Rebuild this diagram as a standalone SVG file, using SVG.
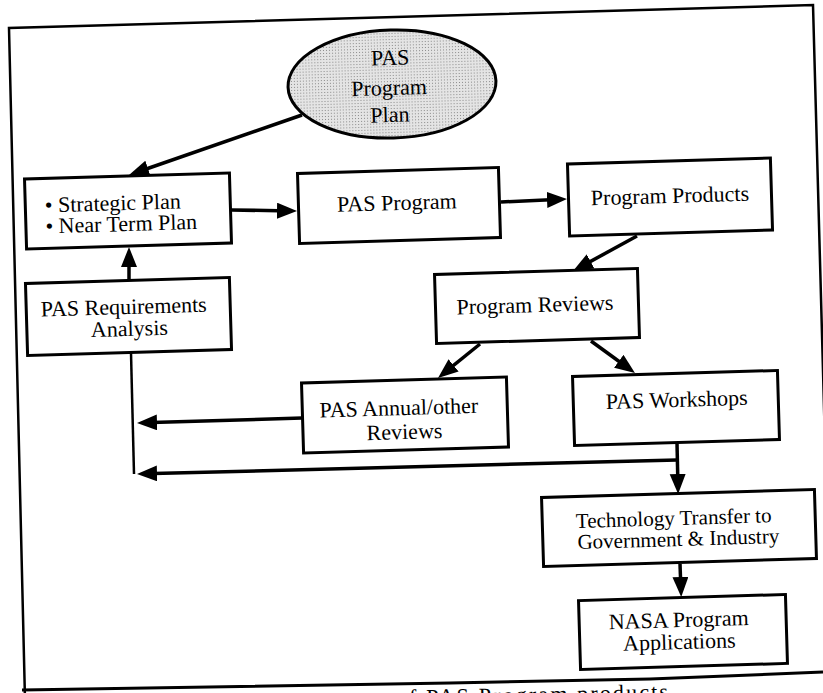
<svg xmlns="http://www.w3.org/2000/svg" width="823" height="693" viewBox="0 0 823 693">
<style>
.box{fill:#fff;stroke:#000;stroke-width:3}
.t{font-family:"Liberation Serif","Times New Roman",serif;font-size:22px;fill:#000}
.c{text-anchor:middle}
.con{stroke:#000;stroke-width:3.5;fill:none}
.thin{stroke:#000;stroke-width:2.5;fill:none}
</style>
<defs>
<pattern id="stip" width="3" height="3" patternUnits="userSpaceOnUse">
<rect width="3" height="3" fill="#e4e4e4"/>
<rect width="1" height="1" fill="#8a8a8a"/>
</pattern>
<marker id="ah" markerUnits="userSpaceOnUse" markerWidth="22" markerHeight="18" refX="14" refY="8" orient="auto">
<path d="M0,0 L20,8 L0,16 z" fill="#000"/>
</marker>
</defs>
<g id="frame">
<path d="M25,700 L9,28 L813,5 L832,700" fill="none" stroke="#000" stroke-width="2.5"/>
<polyline points="22,690 450,683 650,679 823,672" fill="none" stroke="#000" stroke-width="3"/>
<text class="t" x="396" y="702" textLength="272" lengthAdjust="spacing" transform="rotate(-1.3 532 695)">of PAS Program products</text>
</g>
<g id="connectors">
<line class="con" x1="302" y1="115" x2="134.7" y2="173" marker-end="url(#ah)"/>
<line class="con" x1="231" y1="210" x2="291" y2="210.9" marker-end="url(#ah)"/>
<line class="con" x1="501" y1="202" x2="561" y2="199.3" marker-end="url(#ah)"/>
<line class="con" x1="637" y1="236" x2="578.3" y2="268.1" marker-end="url(#ah)"/>
<line class="con" x1="129" y1="280" x2="129" y2="253" marker-end="url(#ah)"/>
<line class="con" x1="480" y1="344" x2="442.7" y2="374.2" marker-end="url(#ah)"/>
<line class="con" x1="591" y1="341" x2="630.1" y2="369.5" marker-end="url(#ah)"/>
<line class="con" x1="302" y1="418" x2="143" y2="422.8" marker-end="url(#ah)"/>
<line class="thin" x1="131" y1="353" x2="134" y2="474"/>
<line class="con" x1="677" y1="443" x2="678" y2="488" marker-end="url(#ah)"/>
<line class="con" x1="677" y1="460" x2="143" y2="473.8" marker-end="url(#ah)"/>
<line class="con" x1="680" y1="564" x2="681" y2="591" marker-end="url(#ah)"/>
</g>
<g id="plan" transform="rotate(-1.7 392 84)">
<ellipse cx="392" cy="84" rx="104" ry="54" fill="url(#stip)" stroke="#000" stroke-width="3"/>
<text class="t c" x="391" y="65">PAS</text>
<text class="t c" x="389" y="95">Program</text>
<text class="t c" x="389" y="122">Plan</text>
</g>
<g id="strategic" transform="rotate(-1.7 128 211)">
<rect class="box" x="25.5" y="176" width="205" height="70"/>
<text class="t" x="45" y="210">• Strategic Plan</text>
<text class="t" x="45" y="231">• Near Term Plan</text>
</g>
<g id="pasprogram" transform="rotate(-1.7 399 205.5)">
<rect class="box" x="298.5" y="170.5" width="201" height="70"/>
<text class="t c" x="397" y="210">PAS Program</text>
</g>
<g id="products" transform="rotate(-1.7 670 197)">
<rect class="box" x="568.5" y="161" width="203" height="72"/>
<text class="t c" x="670" y="203">Program Products</text>
</g>
<g id="requirements" transform="rotate(-1.7 128.5 316.5)">
<rect class="box" x="26.5" y="280.5" width="204" height="72"/>
<text class="t c" x="124" y="314">PAS Requirements</text>
<text class="t c" x="129" y="336">Analysis</text>
</g>
<g id="reviews" transform="rotate(-1.7 537 306)">
<rect class="box" x="435.5" y="271.5" width="203" height="69"/>
<text class="t c" x="535" y="312">Program Reviews</text>
</g>
<g id="annual" transform="rotate(-1.7 405 415)">
<rect class="box" x="302.5" y="380" width="205" height="70"/>
<text class="t c" x="399" y="415">PAS Annual/other</text>
<text class="t c" x="404" y="439">Reviews</text>
</g>
<g id="workshops" transform="rotate(-1.7 676 408)">
<rect class="box" x="573.5" y="373.5" width="205" height="69"/>
<text class="t c" x="677" y="407">PAS Workshops</text>
</g>
<g id="tech" transform="rotate(-1.7 679 528)">
<rect class="box" x="542.5" y="493.5" width="273" height="69"/>
<text class="t c" x="674" y="525" style="font-size:21px">Technology Transfer to</text>
<text class="t c" x="678" y="546" style="font-size:21px">Government &amp; Industry</text>
</g>
<g id="nasa" transform="rotate(-1.7 683 632)">
<rect class="box" x="579.5" y="597.5" width="207" height="69"/>
<text class="t c" x="679" y="627">NASA Program</text>
<text class="t c" x="679" y="649">Applications</text>
</g>
</svg>
